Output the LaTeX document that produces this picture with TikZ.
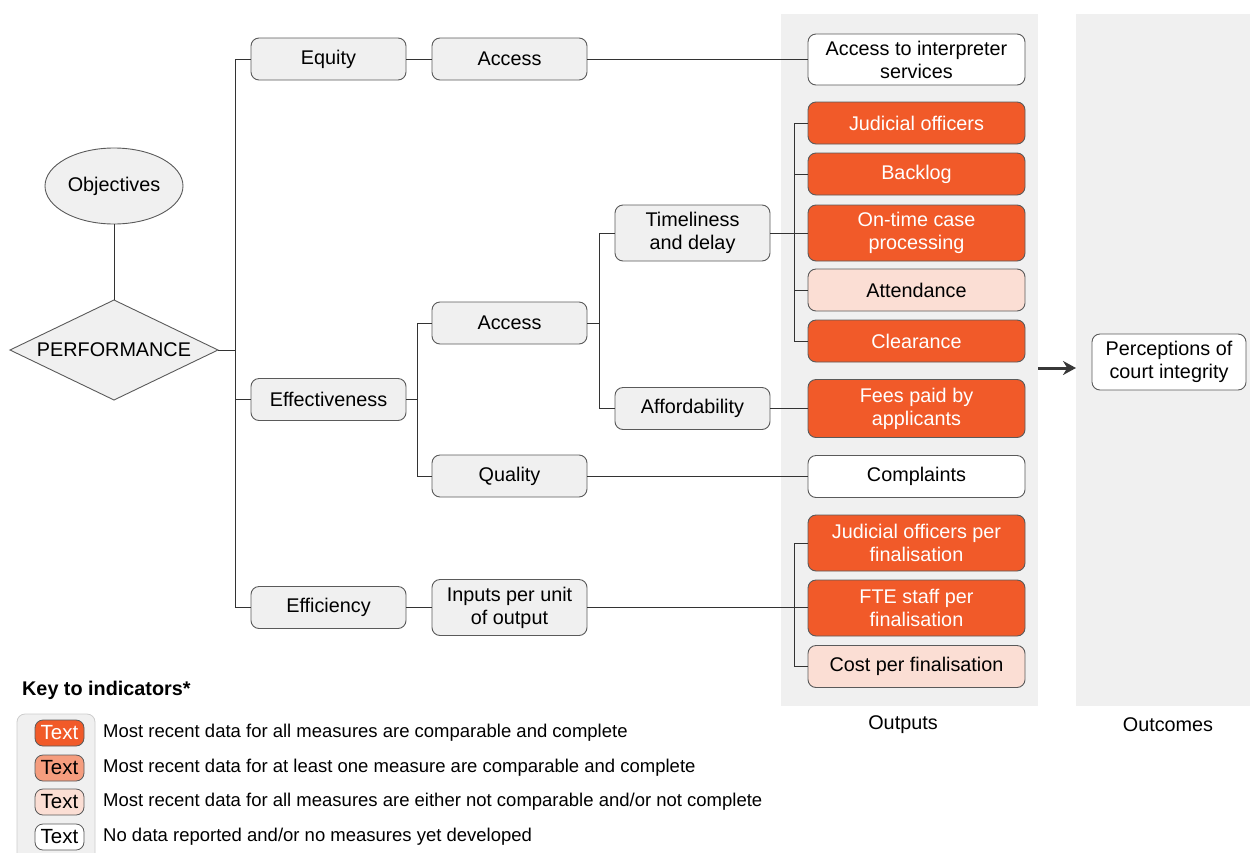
\documentclass[tikz,border=0pt]{standalone}
\usepackage{fontspec}
\setmainfont{Liberation Sans}
\usetikzlibrary{shapes.geometric,arrows.meta}
\definecolor{org}{HTML}{F15A29}
\definecolor{orgmid}{HTML}{F59D7E}
\definecolor{orglt}{HTML}{FBDED4}
\definecolor{boxg}{HTML}{F0F0F0}
\definecolor{panelg}{HTML}{F0F0F0}
\definecolor{bord}{HTML}{5A5A5A}
\definecolor{linec}{HTML}{333333}
\tikzset{
  base/.style={draw=bord, line width=0.9pt, rounded corners=8pt, inner sep=0pt, align=center,
    font=\fontsize{19.8}{23}\selectfont},
  gbox/.style={base, fill=boxg, minimum width=155pt, minimum height=42pt},
  obox/.style={base, fill=org, text=white, minimum width=217pt, minimum height=42pt},
  lbox/.style={base, fill=orglt, minimum width=217pt, minimum height=42pt},
  wbox/.style={base, fill=white, minimum width=217pt, minimum height=42pt},
  conn/.style={draw=linec, line width=0.8pt},
  chip/.style={draw=bord, line width=0.8pt, rounded corners=8pt, minimum width=49pt, minimum height=26pt,
    inner sep=0pt, font=\fontsize{20.5}{22}\selectfont},
  keytxt/.style={anchor=west, inner sep=0pt, font=\fontsize{18.5}{22}\selectfont},
  lbl/.style={inner sep=0pt, font=\fontsize{19.8}{22}\selectfont},
}
\begin{document}
\begin{tikzpicture}[x=1pt,y=-1pt]
\useasboundingbox (0,0) rectangle (1251,852);
% panels
\fill[panelg] (781,14) rectangle (1038,706);
\fill[panelg] (1076,14) rectangle (1250,706);
% key panel
\draw[draw=black!20, fill=panelg, line width=0.8pt, rounded corners=8pt] (17,870) -- (17,714) -- (95,714) -- (95,870);

% objectives and performance
\node[draw=bord, line width=0.9pt, fill=boxg, ellipse, minimum width=138pt, minimum height=76pt, inner sep=0pt,
  font=\fontsize{19.8}{22}\selectfont] (obj) at (114,186) {Objectives};
\coordinate (perfN) at (114,300);
\coordinate (perfE) at (218,350);
\coordinate (perfS) at (114,400);
\coordinate (perfW) at (10,350);
\draw[draw=bord, line width=0.9pt, fill=boxg] (perfW) -- (perfN) -- (perfE) -- (perfS) -- cycle;
\node[inner sep=0pt, font=\fontsize{19.8}{22}\selectfont] (perf) at (114,350) {PERFORMANCE};

% level 1
\node[gbox] (equity) at (328.5,59) {Equity};
\node[gbox] (eff) at (328.5,399.5) {Effectiveness};
\node[gbox] (effic) at (328.5,607.5) {Efficiency};

% level 2
\node[gbox] (acc1) at (509.5,59) {Access};
\node[gbox] (acc2) at (509.5,323) {Access};
\node[gbox] (qual) at (509.5,476) {Quality};
\node[gbox, minimum height=56pt] (inputs) at (509.5,607.5) {Inputs per unit\\of output};

% level 3
\node[gbox, minimum height=56pt] (time) at (692.5,233) {Timeliness\\and delay};
\node[gbox] (afford) at (692.5,408.5) {Affordability};

% outputs
\node[wbox, minimum height=51pt] (interp) at (916.5,59.5) {Access to interpreter\\services};
\node[obox] (judo) at (916.5,123) {Judicial officers};
\node[obox] (backlog) at (916.5,174) {Backlog};
\node[obox, minimum height=56pt] (ontime) at (916.5,233) {On-time case\\processing};
\node[lbox] (attend) at (916.5,290) {Attendance};
\node[obox] (clear) at (916.5,341) {Clearance};
\node[obox, minimum height=58pt] (fees) at (916.5,408.5) {Fees paid by\\applicants};
\node[wbox] (compl) at (916.5,476.5) {Complaints};
\node[obox, minimum height=56pt] (jopf) at (916.5,543) {Judicial officers per\\finalisation};
\node[obox, minimum height=56pt] (fte) at (916.5,608) {FTE staff per\\finalisation};
\node[lbox] (cost) at (916.5,666.5) {Cost per finalisation};

% outcome
\node[base, fill=white, minimum width=154pt, minimum height=56pt] (percep) at (1169,362) {Perceptions of\\court integrity};
\coordinate (arrS) at (1038,368);
\coordinate (arrE) at (1076,368);
\draw[draw=black!78, line width=3pt, -{Stealth[length=13pt,width=14pt]}] (arrS) -- (arrE);
\node[lbl] (outputs) at (903,725) {Outputs};
\node[lbl] (outcomes) at (1168,725) {Outcomes};

% connectors
\draw[conn] (obj.south) -- (perfN);
\draw[conn] (perfE) -- ++(18,0);
\draw[conn] (equity.west) -- ++(-15,0) |- (effic.west);
\draw[conn] (eff.west) -- ++(-15,0);
\draw[conn] (equity.east) -- (acc1.west);
\draw[conn] (acc1.east) -- (acc1.east -| interp.west);
\draw[conn] (eff.east) -- ++(12,0);
\draw[conn] (acc2.west) -- ++(-14,0) |- (qual.west);
\draw[conn] (qual.east) -- (qual.east -| compl.west);
\draw[conn] (acc2.east) -- ++(13,0);
\draw[conn] (time.west) -- ++(-15,0) |- (afford.west);
\draw[conn] (afford.east) -- (afford.east -| fees.west);
\draw[conn] (time.east) -- (time.east -| ontime.west);
\draw[conn] (judo.west) -- ++(-13,0) |- (clear.west);
\draw[conn] (backlog.west) -- ++(-13,0);
\draw[conn] (attend.west) -- ++(-13,0);
\draw[conn] (effic.east) -- (inputs.west);
\draw[conn] (inputs.east) -- (inputs.east -| fte.west);
\draw[conn] (jopf.west) -- ++(-13,0) |- (cost.west);

% key
\node[anchor=west, inner sep=0pt, font=\bfseries\fontsize{19.8}{22}\selectfont] (keyt) at (22,690) {Key to indicators*};
\node[chip, fill=org, text=white] (k1) at (59.5,733) {Text};
\node[chip, fill=orgmid] (k2) at (59.5,768) {Text};
\node[chip, fill=orglt] (k3) at (59.5,802) {Text};
\node[chip, fill=white] (k4) at (59.5,837) {Text};
\node[keytxt] (kt1) at (103,733) {Most recent data for all measures are comparable and complete};
\node[keytxt] (kt2) at (103,768) {Most recent data for at least one measure are comparable and complete};
\node[keytxt] (kt3) at (103,802) {Most recent data for all measures are either not comparable and/or not complete};
\node[keytxt] (kt4) at (103,837) {No data reported and/or no measures yet developed};
\end{tikzpicture}
\end{document}
